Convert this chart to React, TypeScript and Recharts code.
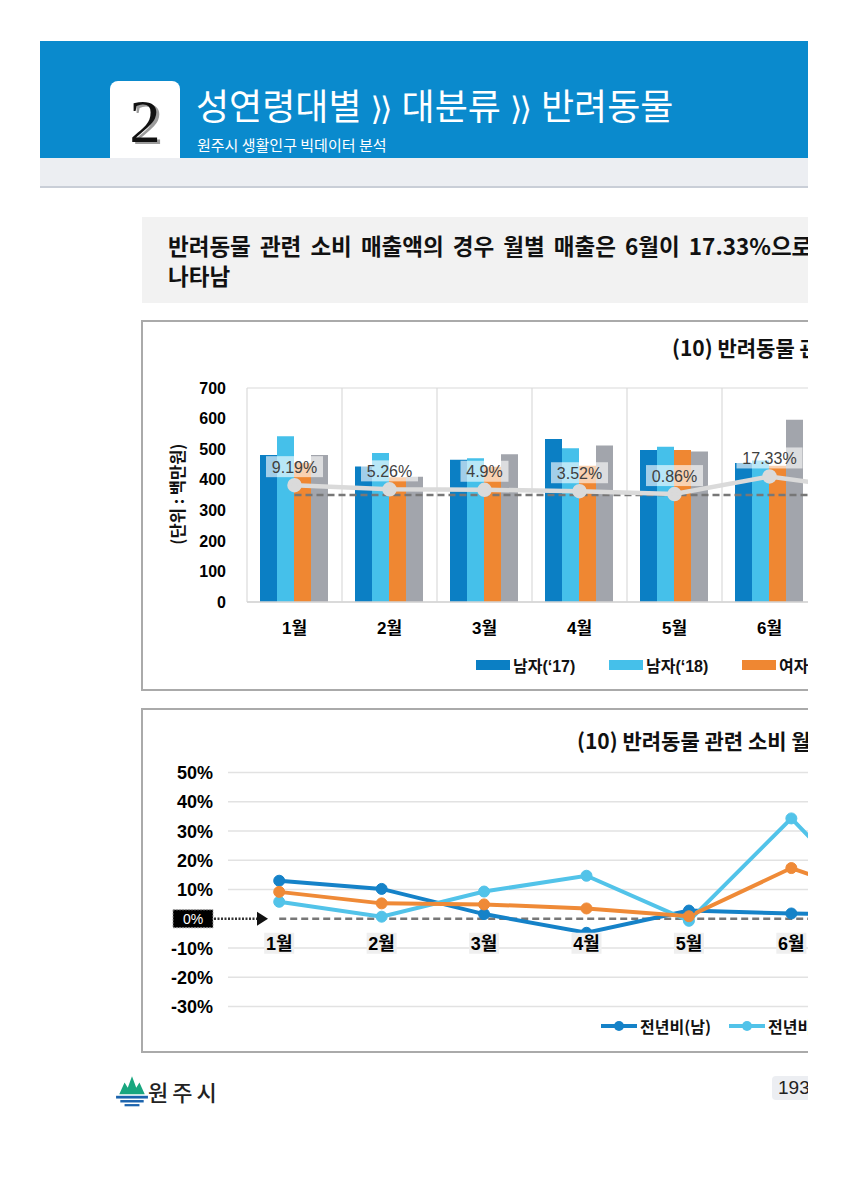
import React from "react";
import {
  ComposedChart,
  Bar,
  Line,
  XAxis,
  YAxis,
  CartesianGrid,
  LabelList,
  ReferenceLine,
} from "recharts";

// ── Data ──────────────────────────────────────────────────────────
const MONTHS = ["1월", "2월", "3월", "4월", "5월", "6월", "7월"];
const MALE_17 = [481, 443, 465, 533, 497, 455, 450];
const MALE_18 = [542, 487, 470, 503, 508, 463, 462];
const FEMALE_17 = [455, 408, 442, 446, 497, 446, 458];
const FEMALE_18 = [481, 410, 483, 512, 492, 596, 470];
const TOTAL_RATE = [9.19, 5.26, 4.9, 3.52, 0.86, 17.33, 5];
const MALE_RATE = [13.0, 10.2, 1.6, -4.8, 2.8, 1.8, 1];
const FEMALE_RATE = [5.8, 0.7, 9.3, 14.7, -0.7, 34.3, -2];

const AMOUNT_TICKS = [0, 100, 200, 300, 400, 500, 600, 700];
const RATE_TICKS = [-30, -20, -10, 0, 10, 20, 30, 40, 50];

// ── Colors / fonts ────────────────────────────────────────────────
const C_DARK = "#0b7fc4";
const C_LIGHT = "#45c0ea";
const C_ORANGE = "#ef8732";
const C_GRAY = "#a2a5ac";
const FONT = '"Liberation Sans", Arial, "Noto Sans CJK KR", sans-serif';
const KFONT = '"Noto Sans CJK KR", "Noto Sans", sans-serif';

const BAR_SERIES = [
  { key: "male17", name: "남자(‘17)", color: C_DARK, values: MALE_17 },
  { key: "male18", name: "남자(‘18)", color: C_LIGHT, values: MALE_18 },
  { key: "female17", name: "여자(‘17)", color: C_ORANGE, values: FEMALE_17 },
  { key: "female18", name: "여자(‘18)", color: C_GRAY, values: FEMALE_18 },
];

const RATE_SERIES = [
  { key: "male", name: "전년비(남)", color: "#1582c8", values: MALE_RATE },
  { key: "female", name: "전년비(여)", color: "#52c3e9", values: FEMALE_RATE },
  { key: "total", name: "전년비(전체)", color: "#ef8a37", values: TOTAL_RATE },
];

const amountData = MONTHS.map((month, i) => {
  const row: Record<string, any> = { month, rate: TOTAL_RATE[i], base: 0 };
  BAR_SERIES.forEach((s) => (row[s.key] = s.values[i]));
  return row;
});

const rateData = MONTHS.map((month, i) => {
  const row: Record<string, any> = { month, base: 0 };
  RATE_SERIES.forEach((s) => (row[s.key] = s.values[i]));
  return row;
});

// grid lines on the category boundaries, not the centers
function bandBoundaries(props: any) {
  const off = props?.offset;
  if (!off) return [];
  const n = MONTHS.length;
  return Array.from({ length: n + 1 }, (_, i) => off.left + (off.width * i) / n);
}

// ── Label renderers ───────────────────────────────────────────────
function RateBadge(props: any) {
  const { x, y, value } = props;
  if (x == null || y == null) return null;
  const text = `${value}%`;
  const w = text.length * 9 + 12;
  return (
    <g>
      <rect x={x - w / 2} y={y - 29} width={w} height={21} fill="#ffffff" fillOpacity={0.62} />
      <text x={x} y={y - 12.5} textAnchor="middle" fontSize={16} fill="#404040" fontFamily={FONT}>
        {text}
      </text>
    </g>
  );
}

function MonthTag(props: any) {
  const { x, y, value } = props;
  if (x == null || y == null) return null;
  return (
    <g>
      <rect x={x - 15} y={y + 14} width={30} height={21} fill="#efefef" />
      <text x={x} y={y + 31} textAnchor="middle" fontSize={18} fontWeight={700} fill="#000" fontFamily={FONT}>
        {value}
      </text>
    </g>
  );
}

function PctTick(props: any) {
  const { x, y, payload } = props;
  const v = payload.value;
  if (v === 0) {
    return (
      <g>
        <rect x={x - 40} y={y - 9} width={40} height={18} fill="#000" stroke="#9a9a9a" strokeDasharray="2 1" />
        <text x={x - 20} y={y + 5} textAnchor="middle" fill="#fff" fontSize={14} fontFamily={FONT}>
          0%
        </text>
        <line x1={x + 1} y1={y} x2={x + 46} y2={y} stroke="#333" strokeWidth={2.5} strokeDasharray="2 1.5" />
        <path d={`M${x + 44},${y - 7} L${x + 55},${y} L${x + 44},${y + 7} Z`} fill="#111" />
      </g>
    );
  }
  return (
    <text x={x} y={y} dy={6.5} textAnchor="end" fontWeight={700} fontSize={18} fill="#000" fontFamily={FONT}>
      {`${v}%`}
    </text>
  );
}

// ── Page pieces ───────────────────────────────────────────────────
function Logo() {
  return (
    <svg width={34} height={34} viewBox="0 0 32 32" style={{ position: "absolute", left: 107, top: 1066 }}>
      <path d="M4,19 L9,8 L12,13 L16,2 L20,13 L23,8 L28,19 Z" fill="#19a67f" />
      <rect x={1} y={20.5} width={30} height={2.6} fill="#1b63ad" />
      <rect x={5} y={24.5} width={22} height={2.3} fill="#1b63ad" />
      <rect x={9} y={28.3} width={14} height={2.1} fill="#1b63ad" />
    </svg>
  );
}

const chevron: React.CSSProperties = {
  fontFamily: '"DejaVu Sans", sans-serif',
  fontSize: 32,
  letterSpacing: -3,
  margin: "0 12px 0 9px",
};

export default function App() {
  return (
    <div
      style={{
        position: "relative",
        width: 800,
        height: 1150,
        overflow: "hidden",
        background: "#fff",
        fontFamily: KFONT,
      }}
    >
      {/* header band */}
      <div style={{ position: "absolute", left: 32, top: 33, width: 800, height: 117, background: "#0a8acd" }} />
      <div style={{ position: "absolute", left: 32, top: 150, width: 800, height: 28, background: "#eceef2" }} />
      <div style={{ position: "absolute", left: 32, top: 178, width: 800, height: 2, background: "#c9ced7" }} />
      <div
        style={{
          position: "absolute",
          left: 102,
          top: 73,
          width: 70,
          height: 77,
          background: "#fff",
          borderRadius: "8px 8px 0 0",
        }}
      />
      <div
        style={{
          position: "absolute",
          left: 102,
          top: 82,
          width: 70,
          textAlign: "center",
          fontFamily: '"Liberation Serif", "DejaVu Serif", serif',
          fontSize: 62,
          lineHeight: "62px",
          color: "#111",
          textShadow: "3px 2px 0 #9c9c9c",
        }}
      >
        2
      </div>
      <div
        style={{
          position: "absolute",
          left: 188,
          top: 73,
          color: "#fff",
          fontSize: 36,
          lineHeight: "46px",
          whiteSpace: "nowrap",
        }}
      >
        성연령대별<span style={chevron}>⟩⟩</span>대분류<span style={chevron}>⟩⟩</span>반려동물
      </div>
      <div
        style={{
          position: "absolute",
          left: 189,
          top: 127,
          color: "#fff",
          fontSize: 15,
          lineHeight: "20px",
          whiteSpace: "nowrap",
        }}
      >
        원주시 생활인구 빅데이터 분석
      </div>

      {/* summary */}
      <div
        style={{
          position: "absolute",
          left: 134,
          top: 209,
          width: 760,
          height: 86,
          background: "#f2f2f2",
          boxSizing: "border-box",
          padding: "13px 0 0 26px",
          fontSize: 22.5,
          lineHeight: "30px",
          fontWeight: 700,
          wordSpacing: 4,
          color: "#111",
          whiteSpace: "nowrap",
        }}
      >
        반려동물 관련 소비 매출액의 경우 월별 매출은 6월이 17.33%으로 가장 높게
        <br />
        나타남
      </div>

      {/* chart 1 */}
      <div
        style={{
          position: "absolute",
          left: 133,
          top: 312,
          width: 900,
          height: 371,
          border: "2px solid #aaaaaa",
          boxSizing: "border-box",
        }}
      />
      <div
        style={{
          position: "absolute",
          left: 664,
          top: 325,
          fontSize: 21,
          lineHeight: "28px",
          fontWeight: 700,
          color: "#111",
          whiteSpace: "nowrap",
        }}
      >
        (10) 반려동물 관련 소비 월별 매출액
      </div>
      <div
        style={{
          position: "absolute",
          left: 169 - 70,
          top: 486 - 11,
          width: 140,
          textAlign: "center",
          transform: "rotate(-90deg)",
          fontSize: 16.5,
          lineHeight: "22px",
          fontWeight: 700,
          color: "#111",
          whiteSpace: "nowrap",
        }}
      >
        (단위 : 백만원)
      </div>
      <div style={{ position: "absolute", left: 133, top: 313 }}>
        <ComposedChart
          width={800}
          height={370}
          data={amountData}
          margin={{ top: 67, right: 29, left: 46, bottom: 49 }}
          barCategoryGap={13}
          barGap={0}
        >
          <CartesianGrid stroke="#dadada" strokeWidth={1.2} verticalCoordinatesGenerator={bandBoundaries} />
          <XAxis
            dataKey="month"
            axisLine={{ stroke: "#d4d4d4", strokeWidth: 1.5 }}
            tickLine={false}
            height={40}
            tickMargin={14}
            tick={{ fontSize: 17, fontWeight: 700, fill: "#000", fontFamily: FONT }}
          />
          <YAxis
            yAxisId="amt"
            width={60}
            domain={[0, 700]}
            ticks={AMOUNT_TICKS}
            axisLine={false}
            tickLine={false}
            tickSize={0}
            tickMargin={21}
            tick={{ fontSize: 16, fontWeight: 700, fill: "#000", fontFamily: FONT }}
          />
          <YAxis yAxisId="pct" orientation="right" domain={[-100, 100]} hide />
          {BAR_SERIES.map((s) => (
            <Bar key={s.key} yAxisId="amt" dataKey={s.key} name={s.name} fill={s.color} isAnimationActive={false} />
          ))}
          <Line
            yAxisId="pct"
            dataKey="base"
            stroke="#777777"
            strokeWidth={2.5}
            strokeDasharray="7 4"
            dot={false}
            activeDot={false}
            isAnimationActive={false}
          />
          <Line
            yAxisId="pct"
            dataKey="rate"
            stroke="#dadada"
            strokeWidth={4.5}
            dot={{ r: 5, fill: "#dadada", stroke: "#dadada" }}
            isAnimationActive={false}
          >
            <LabelList dataKey="rate" content={RateBadge} />
          </Line>
        </ComposedChart>
      </div>
      <div
        style={{
          position: "absolute",
          left: 468,
          top: 645,
          display: "flex",
          alignItems: "center",
          whiteSpace: "nowrap",
          fontFamily: FONT,
          fontSize: 16,
          fontWeight: 700,
          color: "#111",
        }}
      >
        {BAR_SERIES.map((s) => (
          <div key={s.key} style={{ display: "flex", alignItems: "center", width: 133 }}>
            <span style={{ display: "inline-block", width: 34, height: 10, background: s.color, marginRight: 3 }} />
            <span>{s.name}</span>
          </div>
        ))}
      </div>

      {/* chart 2 */}
      <div
        style={{
          position: "absolute",
          left: 133,
          top: 700,
          width: 900,
          height: 345,
          border: "2px solid #aaaaaa",
          boxSizing: "border-box",
        }}
      />
      <div
        style={{
          position: "absolute",
          left: 569,
          top: 718,
          fontSize: 21,
          lineHeight: "28px",
          fontWeight: 700,
          color: "#111",
          whiteSpace: "nowrap",
        }}
      >
        (10) 반려동물 관련 소비 월별 매출액 증감률
      </div>
      <div style={{ position: "absolute", left: 133, top: 701 }}>
        <ComposedChart
          width={820}
          height={344}
          data={rateData}
          margin={{ top: 63.5, right: 16, left: 27, bottom: 46.5 }}
        >
          {RATE_TICKS.filter((t) => t !== 0).map((t) => (
            <ReferenceLine key={t} y={t} stroke="#e2e2e2" strokeWidth={1.5} />
          ))}
          <XAxis dataKey="month" scale="band" hide />
          <YAxis
            width={60}
            domain={[-30, 50]}
            ticks={RATE_TICKS}
            axisLine={false}
            tickLine={false}
            tickSize={0}
            tickMargin={15}
            tick={PctTick}
          />
          <Line
            dataKey="base"
            stroke="#777777"
            strokeWidth={2.5}
            strokeDasharray="7 4"
            dot={false}
            activeDot={false}
            isAnimationActive={false}
          >
            <LabelList dataKey="month" content={MonthTag} />
          </Line>
          {RATE_SERIES.map((s) => (
            <Line
              key={s.key}
              dataKey={s.key}
              name={s.name}
              stroke={s.color}
              strokeWidth={4}
              dot={{ r: 5.5, fill: s.color, stroke: s.color, strokeWidth: 1 }}
              isAnimationActive={false}
            />
          ))}
        </ComposedChart>
      </div>
      <div
        style={{
          position: "absolute",
          left: 592,
          top: 1006,
          display: "flex",
          alignItems: "center",
          whiteSpace: "nowrap",
          fontSize: 16,
          fontWeight: 700,
          color: "#111",
        }}
      >
        {RATE_SERIES.map((s) => (
          <div key={s.key} style={{ display: "flex", alignItems: "center", width: 128 }}>
            <svg width={38} height={14} style={{ marginRight: 2 }}>
              <line x1={1} y1={7} x2={37} y2={7} stroke={s.color} strokeWidth={4} />
              <circle cx={19} cy={7} r={5} fill={s.color} />
            </svg>
            <span>{s.name}</span>
          </div>
        ))}
      </div>

      {/* footer */}
      <Logo />
      <div
        style={{
          position: "absolute",
          left: 140,
          top: 1069,
          fontSize: 22,
          lineHeight: "28px",
          letterSpacing: 4,
          fontWeight: 500,
          color: "#222",
        }}
      >
        원주시
      </div>
      <div
        style={{
          position: "absolute",
          left: 764,
          top: 1068,
          width: 60,
          height: 24,
          background: "#eceef2",
          borderRadius: 4,
          fontFamily: FONT,
          fontSize: 19,
          lineHeight: "24px",
          paddingLeft: 6,
          color: "#222",
        }}
      >
        193
      </div>
    </div>
  );
}
